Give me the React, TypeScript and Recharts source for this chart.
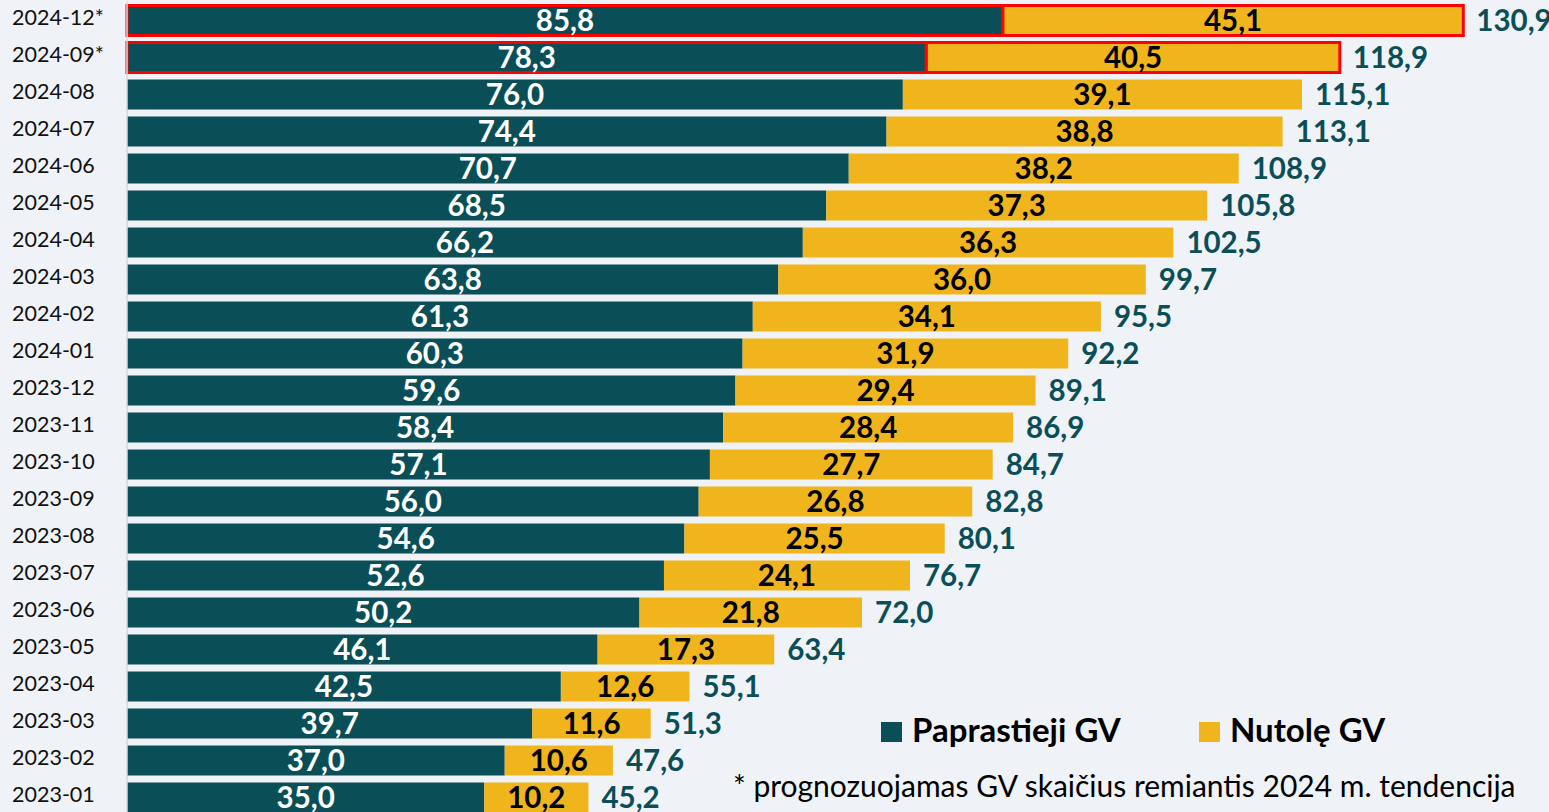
import React from 'react';
import { BarChart, Bar, XAxis, YAxis, Cell, LabelList } from 'recharts';

const categories = ['2024-12*', '2024-09*', '2024-08', '2024-07', '2024-06', '2024-05', '2024-04', '2024-03', '2024-02', '2024-01', '2023-12', '2023-11', '2023-10', '2023-09', '2023-08', '2023-07', '2023-06', '2023-05', '2023-04', '2023-03', '2023-02', '2023-01'];
const paprastieji = [85.8, 78.3, 76.0, 74.4, 70.7, 68.5, 66.2, 63.8, 61.3, 60.3, 59.6, 58.4, 57.1, 56.0, 54.6, 52.6, 50.2, 46.1, 42.5, 39.7, 37.0, 35.0];
const nutole = [45.1, 40.5, 39.1, 38.8, 38.2, 37.3, 36.3, 36.0, 34.1, 31.9, 29.4, 28.4, 27.7, 26.8, 25.5, 24.1, 21.8, 17.3, 12.6, 11.6, 10.6, 10.2];
const totals = [130.9, 118.9, 115.1, 113.1, 108.9, 105.8, 102.5, 99.7, 95.5, 92.2, 89.1, 86.9, 84.7, 82.8, 80.1, 76.7, 72.0, 63.4, 55.1, 51.3, 47.6, 45.2];
const forecastCategories = ['2024-12*', '2024-09*'];
const seriesNames = ['Paprastieji GV', 'Nutolę GV'];
const footnote = '* prognozuojamas GV skaičius remiantis 2024 m. tendencija';

const data = categories.map((c, i) => ({ cat: c, p: paprastieji[i], n: nutole[i], total: totals[i] }));

const TEAL = '#0a4f57';
const YELLOW = '#f0b51c';
const BG = '#eff2f6';
const FONT = 'Lato, "Open Sans", sans-serif';

const fmt = (v: any) => Number(v).toFixed(1).replace('.', ',');

const CatTick = (props: any) => {
  const { y, payload } = props;
  return (
    <text x={12} y={y} dy={5} textAnchor="start" fontSize={21.5} fontFamily={FONT} fill="#111">
      {payload.value}
    </text>
  );
};

export default function App() {
  return (
    <div style={{ position: 'absolute', left: 0, top: 0, width: 1549, height: 812, overflow: 'hidden', background: BG, fontFamily: FONT }}>
      <BarChart
        width={1549}
        height={820}
        data={data}
        layout="vertical"
        margin={{ top: 1.5, right: 3, bottom: 4.5, left: 0 }}
        barSize={30}
      >
        <XAxis type="number" domain={[0, 139]} hide />
        <YAxis
          type="category"
          dataKey="cat"
          width={127}
          axisLine={{ stroke: '#d4d8dc', strokeWidth: 1.5 }}
          tickLine={false}
          tick={<CatTick />}
          interval={0}
        />
        <Bar dataKey="p" stackId="a" fill={TEAL} isAnimationActive={false}>
          {data.map((d, i) => (
            <Cell key={i} fill={TEAL} stroke={forecastCategories.includes(d.cat) ? '#ff0000' : 'none'} strokeWidth={3} />
          ))}
          <LabelList dataKey="p" position="center" formatter={fmt} fill="#ffffff" fontSize={29.5} fontWeight={700} fontFamily={FONT} />
        </Bar>
        <Bar dataKey="n" stackId="a" fill={YELLOW} isAnimationActive={false}>
          {data.map((d, i) => (
            <Cell key={i} fill={YELLOW} stroke={forecastCategories.includes(d.cat) ? '#ff0000' : 'none'} strokeWidth={3} />
          ))}
          <LabelList dataKey="n" position="center" formatter={fmt} fill="#000000" fontSize={29.5} fontWeight={700} fontFamily={FONT} />
          <LabelList dataKey="total" position="right" offset={13} formatter={fmt} fill={TEAL} fontSize={29.5} fontWeight={700} fontFamily={FONT} />
        </Bar>
      </BarChart>
      <svg width={1549} height={812} style={{ position: 'absolute', left: 0, top: 0, pointerEvents: 'none' }}>
        <rect x={881} y={722} width={21} height={20} fill={TEAL} />
        <text x={912} y={742} fontSize={33} fontWeight={700} fontFamily={FONT} fill="#000">{seriesNames[0]}</text>
        <rect x={1199} y={722} width={21} height={20} fill={YELLOW} />
        <text x={1230} y={742} fontSize={33} fontWeight={700} fontFamily={FONT} fill="#000">{seriesNames[1]}</text>
        <text x={733} y={797} fontSize={30} fontFamily={FONT} fill="#000">{footnote}</text>
      </svg>
    </div>
  );
}
